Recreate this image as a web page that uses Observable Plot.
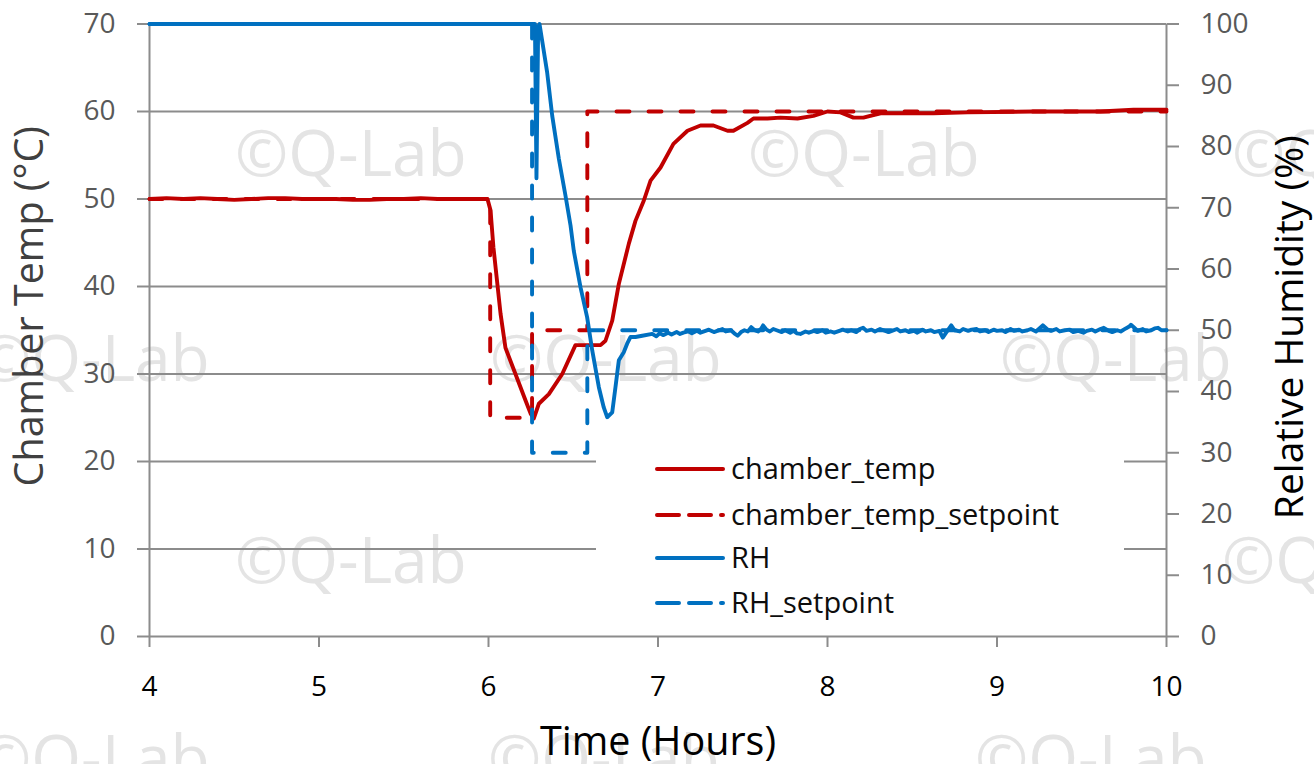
<!DOCTYPE html>
<html>
<head>
<meta charset="utf-8">
<script src="https://cdn.jsdelivr.net/npm/d3@7"></script>
<script src="https://cdn.jsdelivr.net/npm/@observablehq/plot@0.6"></script>
<style>
  html, body { margin: 0; padding: 0; background: #fff; }
  #wrap { position: relative; width: 1314px; height: 764px; overflow: hidden; font-family: "Open Sans", sans-serif; }
  .wm { position: absolute; font-family: "Open Sans", sans-serif; font-size: 64px; color: #e4e4e4; white-space: nowrap; line-height: 1; z-index: 0; }
  #chart { position: absolute; left: 0; top: 0; z-index: 1; }
  #legend { position: absolute; left: 596px; top: 445px; width: 528px; height: 187px; background: #fff; z-index: 2; }
</style>
</head>
<body>
<div id="wrap"></div>
<script>
// ---- tick labels ----
const timeTicks = [4, 5, 6, 7, 8, 9, 10];
const tempTicks = [0, 10, 20, 30, 40, 50, 60, 70];
const rhTicks = [0, 10, 20, 30, 40, 50, 60, 70, 80, 90, 100];

// ---- series names / colours ----
const seriesNames = ["chamber_temp", "chamber_temp_setpoint", "RH", "RH_setpoint"];
const seriesColors = ["#C00000", "#C00000", "#0070C0", "#0070C0"];
const seriesDashed = [false, true, false, true];

// ---- series values [hours, value] ----
const chamberTemp = [
  [4.0,50.0],[4.1,50.1],[4.2,50.0],[4.3,50.1],[4.4,50.0],[4.5,49.9],[4.6,50.0],[4.7,50.1],[4.8,50.1],[4.9,50.0],
  [5.0,50.0],[5.1,50.0],[5.2,49.9],[5.3,49.9],[5.4,50.0],[5.5,50.0],[5.6,50.1],[5.7,50.0],[5.8,50.0],[5.9,50.0],
  [5.994,50.0],[6.012,48.7],[6.029,44.5],[6.071,36.9],[6.100,33.0],[6.159,30.0],[6.218,27.0],[6.248,25.5],[6.267,24.9],
  [6.297,26.6],[6.356,27.7],[6.435,30.0],[6.513,33.3],[6.661,33.3],[6.690,33.8],[6.730,36.1],[6.769,40.3],[6.828,44.9],
  [6.867,47.5],[6.916,49.8],[6.956,52.1],[7.015,53.6],[7.091,56.3],[7.174,57.8],[7.251,58.4],[7.327,58.4],[7.410,57.8],
  [7.445,57.8],[7.528,58.7],[7.563,59.2],[7.646,59.2],[7.723,59.3],[7.823,59.2],[7.917,59.5],[8.000,60.0],[8.077,59.9],
  [8.153,59.3],[8.212,59.3],[8.313,59.8],[8.625,59.8],[8.826,59.9],[9.215,60.0],[9.611,60.0],[9.805,60.2],[10.0,60.2]
];
const chamberTempSetpoint = [
  [4.0,50],[6.01,50],[6.01,25],[6.257,25],[6.257,35],[6.583,35],[6.583,60],[10.0,60]
];
const rh = [
  [4.0,100],[6.274,100],[6.283,74.8],[6.293,99.5],[6.301,100],[6.346,92.1],[6.376,85.0],[6.415,78.0],[6.454,72.0],
  [6.484,67.1],[6.503,63.0],[6.543,57.0],[6.582,52.1],[6.612,46.7],[6.651,40.7],[6.680,37.4],[6.700,35.8],[6.730,36.6],
  [6.749,40.7],[6.769,45.1],[6.798,46.4],[6.818,47.8],[6.838,48.9],[6.867,48.9],[6.907,49.1],
  [6.966,49.4],[6.99,49.0],[7.01,49.5],[7.03,49.2],[7.06,49.6],[7.08,49.3],[7.11,49.7],[7.13,49.4],[7.15,49.6],[7.18,49.8],
  [7.20,49.5],[7.23,49.9],[7.25,49.6],[7.28,49.9],[7.30,50.1],[7.33,49.7],[7.35,49.9],[7.38,50.2],[7.40,49.8],[7.43,50.0],
  [7.45,49.5],[7.47,49.1],[7.49,49.7],[7.51,50.0],[7.53,49.8],[7.55,50.5],[7.57,50.0],[7.59,49.8],[7.61,50.3],[7.62,50.8],
  [7.64,50.1],[7.66,49.8],[7.68,50.2],[7.70,50.0],[7.73,49.7],[7.75,50.0],[7.78,49.6],[7.80,49.9],[7.82,49.5],[7.84,49.4],
  [7.87,49.8],[7.89,49.6],[7.92,49.9],[7.94,49.7],[7.97,50.0],[7.99,49.6],[8.02,49.8],[8.04,49.6],[8.07,49.9],[8.09,50.1],
  [8.12,49.8],[8.14,50.0],[8.17,49.7],[8.19,50.2],[8.21,50.4],[8.23,49.9],[8.26,50.1],[8.28,49.8],[8.31,50.2],[8.33,50.0],
  [8.36,49.7],[8.38,49.9],[8.41,50.2],[8.43,49.8],[8.46,50.0],[8.48,49.7],[8.51,49.9],[8.53,49.6],[8.56,50.1],[8.58,49.8],
  [8.61,50.0],[8.63,49.7],[8.66,49.9],[8.68,48.8],[8.70,49.6],[8.73,50.8],[8.75,50.0],[8.78,49.8],[8.80,50.2],[8.83,49.9],
  [8.85,50.1],[8.88,50.2],[8.90,49.8],[8.93,50.0],[8.95,49.7],[8.98,50.1],[9.00,49.9],[9.03,50.0],[9.05,49.7],[9.08,50.2],
  [9.10,49.9],[9.13,50.1],[9.15,49.8],[9.18,50.0],[9.20,50.2],[9.23,49.8],[9.25,50.3],[9.27,50.8],[9.30,50.1],[9.32,49.9],
  [9.35,50.2],[9.37,49.8],[9.40,50.0],[9.43,50.1],[9.45,49.7],[9.48,49.9],[9.51,49.6],[9.53,49.9],[9.56,50.1],[9.58,49.8],
  [9.61,50.2],[9.63,50.4],[9.66,49.9],[9.68,49.7],[9.71,50.0],[9.73,49.8],[9.76,50.3],[9.78,50.6],[9.79,50.9],[9.81,50.4],
  [9.83,49.9],[9.86,50.2],[9.88,49.8],[9.91,50.0],[9.93,50.3],[9.95,50.4],[9.97,50.0],[10.0,50.0]
];
const rhSetpoint = [
  [4.0,100],[6.257,100],[6.257,30],[6.583,30],[6.583,50],[10.0,50]
];

// ---- text ----
const yLeftTitle = "Chamber Temp (°C)";
const yRightTitle = "Relative Humidity (%)";
const xTitle = "Time (Hours)";
const watermark = "©Q-Lab";

// RH (0-100) is drawn on the temperature scale (0-70)
const RH_TO_T = 70 / 100;
const toRow = (arr, rhAxis) => arr.map(([t, v]) => ({t, v: rhAxis ? v * RH_TO_T : v}));

const gray = "#8c8c8c";
const tickColor = "#595959";
const dash = "13,19";

const chart = Plot.plot({
  width: 1314,
  height: 764,
  marginLeft: 149,
  marginRight: 148,
  marginTop: 23.5,
  marginBottom: 128,
  x: {domain: [4, 10]},
  y: {domain: [0, 70]},
  style: {fontFamily: "Open Sans", fontSize: "28px", background: "transparent", overflow: "visible"},
  marks: [
    Plot.gridY(tempTicks, {stroke: gray, strokeOpacity: 1, strokeWidth: 2}),
    Plot.ruleX([4, 10], {stroke: gray, strokeWidth: 2}),
    Plot.axisY(tempTicks, {anchor: "left", tickSize: 12, tickPadding: 22, stroke: gray, strokeWidth: 2, fill: tickColor, fontSize: 28, label: null}),
    Plot.axisY(rhTicks.map(v => v * RH_TO_T), {anchor: "right", tickSize: 12, tickPadding: 22, stroke: gray, strokeWidth: 2, fill: tickColor, fontSize: 28, label: null, tickFormat: d => Math.round(d / RH_TO_T)}),
    Plot.axisX(timeTicks, {anchor: "bottom", tickSize: 11, tickPadding: 29, stroke: gray, strokeWidth: 2, fill: "#000", fontSize: 28, label: null, tickFormat: d => d}),
    Plot.line(toRow(chamberTemp, false), {x: "t", y: "v", stroke: seriesColors[0], strokeWidth: 3.9, strokeLinejoin: "round", strokeLinecap: "round"}),
    Plot.line(toRow(chamberTempSetpoint, false), {x: "t", y: "v", stroke: seriesColors[1], strokeWidth: 3.9, strokeDasharray: dash, strokeLinecap: "round"}),
    Plot.line(toRow(rh, true), {x: "t", y: "v", stroke: seriesColors[2], strokeWidth: 3.9, strokeLinejoin: "round", strokeLinecap: "round"}),
    Plot.line(toRow(rhSetpoint, true), {x: "t", y: "v", stroke: seriesColors[3], strokeWidth: 3.9, strokeDasharray: dash, strokeLinecap: "round"}),
    Plot.text([yLeftTitle], {frameAnchor: "left", textAnchor: "middle", lineAnchor: "middle", rotate: -90, dx: -119, dy: -24, fontSize: 39.5, fill: "#404040"}),
    Plot.text([yRightTitle], {frameAnchor: "right", textAnchor: "middle", lineAnchor: "middle", rotate: -90, dx: 124, dy: -3, fontSize: 39, fill: "#000"}),
    Plot.text([xTitle], {frameAnchor: "bottom", textAnchor: "middle", lineAnchor: "middle", dy: 106, fontSize: 39.5, fill: "#000"})
  ]
});
chart.id = "chart";

const wrap = document.getElementById("wrap");

// watermarks (background decoration)
const wmSpots = [
  [235, 170], [748, 170], [1232, 170],
  [-22, 375], [490, 375], [1000, 375],
  [235, 577], [748, 577], [1222, 577],
  [-22, 775], [488, 775], [975, 775]
];
for (const [l, b] of wmSpots) {
  const d = document.createElement("div");
  d.className = "wm";
  d.textContent = watermark;
  d.style.left = l + "px";
  d.style.top = (b - 50) + "px";
  wrap.appendChild(d);
}
wrap.appendChild(chart);

// legend
const lg = document.createElement("div");
lg.id = "legend";
const rowsY = [24, 70, 113, 158];
let svg = '<svg width="528" height="187" xmlns="http://www.w3.org/2000/svg" style="font-family:Open Sans">';
seriesNames.forEach((name, i) => {
  const y = rowsY[i];
  svg += `<line x1="61" x2="127" y1="${y}" y2="${y}" stroke="${seriesColors[i]}" stroke-width="4" stroke-linecap="round" ${seriesDashed[i] ? 'stroke-dasharray="22,10"' : ''}/>`;
  svg += `<text x="135" y="${y + 10}" font-size="29" fill="#0d0d0d">${name}</text>`;
});
svg += '</svg>';
lg.innerHTML = svg;
wrap.appendChild(lg);
</script>
</body>
</html>
